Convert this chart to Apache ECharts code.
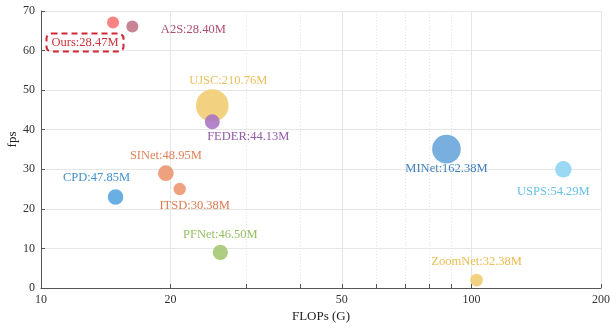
<!DOCTYPE html>
<html><head><meta charset="utf-8">
<script src="https://cdn.jsdelivr.net/npm/echarts@6/dist/echarts.min.js"></script>
<style>html,body{margin:0;padding:0;background:#fff}#c{width:610px;height:328px}</style>
</head><body><div id="c"></div>
<script>
// Data
var models = ['UJSC','MINet','SINet','CPD','PFNet','USPS','FEDER','ZoomNet','ITSD','A2S','Ours'];
var flops  = [25.0, 87.5, 19.5, 14.9, 26.1, 163.5, 25.0, 102.8, 21.0, 16.3, 14.7];
var fps    = [46.1, 35.1, 29.0, 23.0, 9.0, 30.0, 42.0, 2.0, 25.0, 66.1, 67.1];
var paramsM = [210.76, 162.38, 48.95, 47.85, 46.50, 54.29, 44.13, 32.38, 30.38, 28.40, 28.47];
var xTickLabels = [10, 20, 50, 100, 200];
var xMinorGrid = [30, 40, 60, 70, 80, 90];
var xMajorGrid = [20, 50, 100, 200];

// Styles
var fillColors  = ['#f1cd72','#6aa6db','#ec9770','#5aa6e0','#a6c873','#8fd4f2','#ab77c4','#f1cd72','#ec9770','#c27589','#f87474'];
var labelColors = ['#e8b84c','#2d74b4','#de7446','#2d86c8','#8ab84f','#58b8e4','#88469f','#eab53d','#dc6a3c','#a33a5c','#c81a22'];
var labelOffsets = [[16,-25],[0,20],[0,-18],[-19,-19],[0,-18],[-10,22],[36,15],[0,-18],[15,17],[61,3],[-28,20]];

var data = models.map(function(m,i){
  var lbl = {
    show:true, position:'inside',
    formatter: m + ':' + paramsM[i].toFixed(2) + 'M',
    color: labelColors[i], fontFamily:'Liberation Serif', fontSize:12.5
  };
  if (m === 'Ours') {
    lbl.borderColor = '#cc1020'; lbl.borderWidth = 2; lbl.borderType = [6,4];
    lbl.borderRadius = 5; lbl.padding = [3,5,2,5];
  }
  return {
    name:m, value:[flops[i], fps[i], paramsM[i]],
    itemStyle:{color:fillColors[i], opacity:0.9},
    label: lbl
  };
});

var chart = echarts.init(document.getElementById('c'), null, {renderer:'canvas'});
var serif = 'Liberation Serif';
chart.setOption({
  animation:false,
  grid:{left:41, right:9, top:11, bottom:40, containLabel:false, outerBoundsMode:'none'},
  xAxis:{
    type:'log', logBase:10, min:10, max:200,
    name:'FLOPs (G)', nameLocation:'middle', nameGap:22, nameMoveOverlap:false,
    nameTextStyle:{fontFamily:serif, fontSize:13, color:'#222'},
    axisLine:{show:true, lineStyle:{color:'#555', width:1}},
    axisTick:{show:true, inside:true, length:4, customValues:[20,30,40,50,60,70,80,90,100,200], lineStyle:{color:'#555'}},
    axisLabel:{customValues:xTickLabels, fontFamily:serif, fontSize:12, color:'#333', margin:6},
    splitLine:{show:false}, minorTick:{show:false}
  },
  yAxis:{
    type:'value', min:0, max:70, interval:10,
    name:'fps', nameLocation:'middle', nameGap:22, nameMoveOverlap:false,
    nameTextStyle:{fontFamily:serif, fontSize:13, color:'#222', padding:[0,0,0,20]},
    axisLine:{show:true, lineStyle:{color:'#555', width:1}},
    axisTick:{show:true, inside:true, length:4, lineStyle:{color:'#555'}},
    axisLabel:{fontFamily:serif, fontSize:12, color:'#333', margin:6},
    splitLine:{show:true, lineStyle:{color:'#e6e6e6', width:1}}
  },
  series:[
    {
      type:'scatter', data:[], z:0, silent:true,
      markLine:{
        silent:true, symbol:'none', animation:false, z:0,
        label:{show:false},
        data: xMajorGrid.map(function(v){return {xAxis:v, lineStyle:{color:'#e6e6e6', width:1, type:'solid'}};})
          .concat(xMinorGrid.map(function(v){return {xAxis:v, lineStyle:{color:'#e4e4e4', width:1, type:[1,2]}};}))
      }
    },
    {
      type:'scatter', z:3,
      symbolSize:function(val){ return 2.25*Math.sqrt(val[2]); },
      data:data,
      labelLayout:function(p){
        var o = labelOffsets[p.dataIndex];
        return {dx:o[0], dy:o[1], hideOverlap:false};
      }
    }
  ]
});
</script></body></html>
